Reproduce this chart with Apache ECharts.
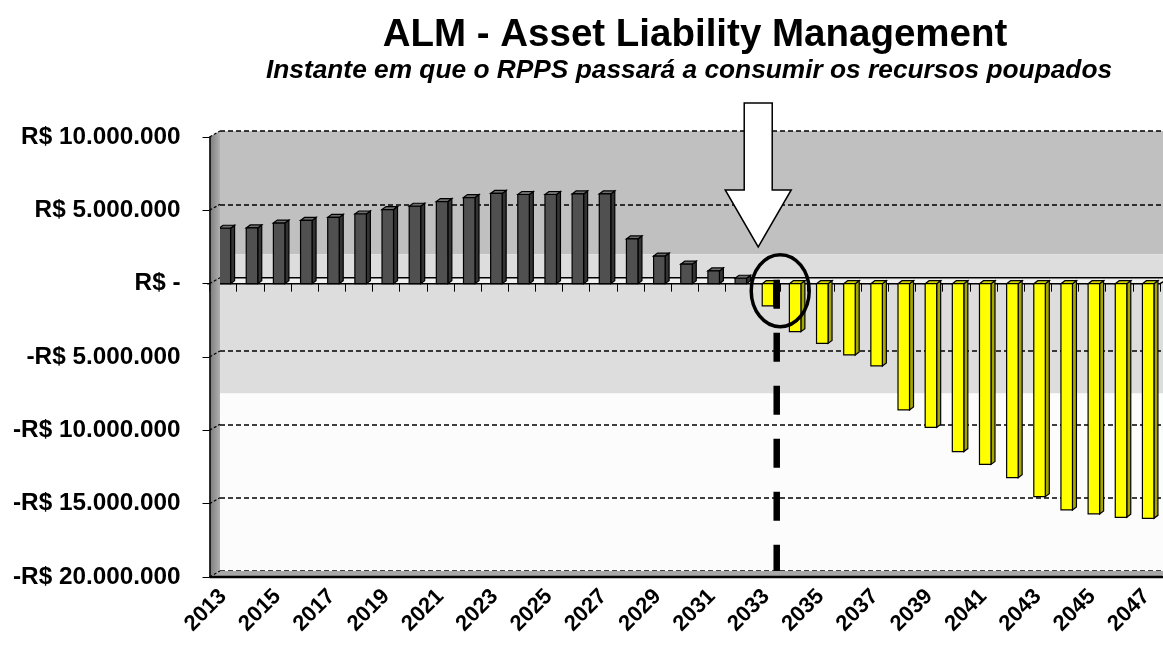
<!DOCTYPE html>
<html><head><meta charset="utf-8">
<script src="https://cdn.jsdelivr.net/npm/echarts@6/dist/echarts.min.js"></script>
<style>html,body{margin:0;padding:0;background:#fff}#c{width:1163px;height:645px}</style>
</head><body><div id="c"></div>
<script>
const titleText = 'ALM - Asset Liability Management';
const subtitleText = 'Instante em que o RPPS passará a consumir os recursos poupados';
const years = ['2013','2014','2015','2016','2017','2018','2019','2020','2021','2022','2023','2024',
  '2025','2026','2027','2028','2029','2030','2031','2032','2033','2034','2035','2036','2037','2038',
  '2039','2040','2041','2042','2043','2044','2045','2046','2047'];
const saldo = [3780000, 3800000, 4130000, 4310000, 4520000, 4750000, 5050000, 5280000, 5600000, 5870000,
  6150000, 6080000, 6080000, 6120000, 6120000, 3050000, 1880000, 1330000, 870000, 370000,
  -1520000, -3270000, -4070000, -4860000, -5610000, -8610000, -9800000, -11450000, -12320000, -13230000,
  -14520000, -15430000, -15700000, -15930000, -16000000];
const yTicks = [10000000, 5000000, 0, -5000000, -10000000, -15000000, -20000000];
const yTickLabels = ['R$ 10.000.000','R$ 5.000.000','R$ -','-R$ 5.000.000','-R$ 10.000.000','-R$ 15.000.000','-R$ 20.000.000'];
const wallBands = [[10000000, 1600000], [1600000, -7900000], [-7900000, -20000000]];
const wallBandColors = ['#c0c0c0', '#dddddd', '#fcfcfc'];
const markYear = '2033';

const FONT = '"Liberation Sans", Arial, sans-serif';
const DX = 10.5, DY = -6;
const chart = echarts.init(document.getElementById('c'), null, {renderer: 'canvas'});

function barItem(params, api) {
  const i = api.value(0), v = api.value(1);
  const base = api.coord([i, 0]);
  const top = api.coord([i, v]);
  const cx = base[0];
  const x0 = cx - 4, w = 11.5, dx = 4, dy = -3;
  const yTop = Math.min(base[1], top[1]);
  const yBot = Math.max(base[1], top[1]);
  const pos = v >= 0;
  const cFront = pos ? '#505050' : '#ffff00';
  const cSide = pos ? '#333333' : '#a6a600';
  const cTop = pos ? '#6e6e6e' : '#d4d400';
  const stroke = {stroke: '#000', lineWidth: 1.2};
  return {
    type: 'group',
    children: [
      {type: 'polygon', shape: {points: [[x0 + w, yTop], [x0 + w + dx, yTop + dy], [x0 + w + dx, yBot + dy], [x0 + w, yBot]]},
        style: Object.assign({fill: cSide}, stroke)},
      {type: 'polygon', shape: {points: [[x0, yTop], [x0 + dx, yTop + dy], [x0 + w + dx, yTop + dy], [x0 + w, yTop]]},
        style: Object.assign({fill: cTop}, stroke)},
      {type: 'rect', shape: {x: x0, y: yTop, width: w, height: yBot - yTop},
        style: Object.assign({fill: cFront}, stroke)}
    ]
  };
}

function bandItem(params, api) {
  const cs = params.coordSys;
  const a = api.coord([0, api.value(0)]);
  const b = api.coord([0, api.value(1)]);
  const k = api.value(2);
  return {type: 'rect', shape: {x: cs.x, y: a[1], width: cs.width, height: b[1] - a[1]},
    style: {fill: wallBandColors[k]}};
}

const option = {
  animation: false,
  backgroundColor: '#ffffff',
  grid: [
    {left: 209.5, top: 137, width: 950.5, height: 440},
    {left: 220, top: 131, width: 950.5, height: 440}
  ],
  xAxis: [
    {gridIndex: 0, type: 'category', data: years, position: 'bottom',
      axisLine: {show: false, onZero: false}, axisTick: {show: false},
      axisLabel: {interval: 1, rotate: 45, margin: 16, fontFamily: FONT, fontWeight: 'bold', fontSize: 22, color: '#000'},
      z: 5},
    {gridIndex: 0, type: 'category', data: years, position: 'bottom',
      axisLine: {show: false, onZero: true}, axisTick: {show: true, interval: 0, length: 8, lineStyle: {color: '#000', width: 1}},
      axisLabel: {show: false}, z: 2},
    {gridIndex: 1, type: 'category', data: years, show: false}
  ],
  yAxis: [
    {gridIndex: 0, type: 'value', min: -20000000, max: 10000000, interval: 5000000,
      axisLine: {show: true, lineStyle: {color: '#000', width: 1.5}},
      axisTick: {show: true, length: 7, lineStyle: {color: '#000', width: 1}},
      splitLine: {show: false},
      axisLabel: {margin: 29, fontFamily: FONT, fontWeight: 'bold', fontSize: 24.3, color: '#000',
        formatter: v => { const k = yTicks.indexOf(v); return k >= 0 ? yTickLabels[k] : ''; }},
      z: 5},
    {gridIndex: 1, type: 'value', min: -20000000, max: 10000000, interval: 5000000,
      axisLine: {show: false}, axisTick: {show: false}, axisLabel: {show: false},
      splitLine: {show: true, lineStyle: {color: '#000', type: [5, 3], width: 1.5}}, z: 1}
  ],
  series: [
    {type: 'custom', xAxisIndex: 2, yAxisIndex: 1, z: 0, silent: true,
      data: wallBands.map((b, k) => [b[0], b[1], k]), renderItem: bandItem},
    {type: 'custom', xAxisIndex: 0, yAxisIndex: 0, z: 3, silent: true,
      data: saldo.map((v, i) => [i, v]), renderItem: barItem}
  ]
};
chart.setOption(option);

// structural 3D walls and annotations anchored to the axes
const cxOf = i => chart.convertToPixel({xAxisIndex: 0}, i);
const yOf = v => chart.convertToPixel({yAxisIndex: 0}, v);
const bw = cxOf(1) - cxOf(0);
const xL = cxOf(0) - bw / 2, xR = cxOf(years.length - 1) + bw / 2;
const yT = yOf(10000000), yB = yOf(-20000000), yZ = yOf(0);
const c = cxOf(years.indexOf(markYear));

const g = [];
g.push({type: 'polygon', z: 2, shape: {points: [[xL, yZ], [xL + DX, yZ + DY], [xR + DX, yZ + DY], [xR, yZ]]},
  style: {fill: '#f0f0f0', stroke: '#000', lineWidth: 1.5}});
g.push({type: 'polygon', z: 4, shape: {points: [[xL, yB], [xL + DX, yB + DY], [xR + DX, yB + DY], [xR, yB]]},
  style: {fill: '#a8a8a8', stroke: null}});
g.push({type: 'line', z: 4, shape: {x1: xL, y1: yB, x2: xR + DX, y2: yB}, style: {stroke: '#000', lineWidth: 2.5}});
g.push({type: 'polygon', z: 4, shape: {points: [[xL, yT], [xL + DX, yT + DY], [xL + DX, yB + DY], [xL, yB]]},
  style: {fill: new echarts.graphic.LinearGradient(0, 0, 1, 0, [{offset: 0, color: '#7a7a7a'}, {offset: 1, color: '#b0b0b0'}])}});
yTicks.forEach(v => {
  const y = yOf(v);
  g.push({type: 'line', z: 4.5, shape: {x1: xL, y1: y, x2: xL + DX, y2: y + DY},
    style: {stroke: '#000', lineWidth: 1.2, lineDash: [3, 2]}});
});
// dashed vertical marker
g.push({type: 'line', z: 6, shape: {x1: c + 10.5, y1: yZ - 4, x2: c + 10.5, y2: yB + DY},
  style: {stroke: '#000', lineWidth: 6.5, lineDash: [29, 24]}});
// circle
g.push({type: 'ellipse', z: 6, shape: {cx: c + 14, cy: yZ + 7, rx: 29, ry: 36},
  style: {fill: null, stroke: '#000', lineWidth: 3.5}});
// arrow
const ac = c - 8;
g.push({type: 'polygon', z: 6, shape: {points: [[ac - 14, 103], [ac + 14, 103], [ac + 14, 190], [ac + 33, 190],
  [ac, 247], [ac - 33, 190], [ac - 14, 190]]}, style: {fill: '#fff', stroke: '#000', lineWidth: 1.5}});
// titles
g.push({type: 'text', z: 7, style: {text: titleText, x: 695, y: 35, align: 'center', verticalAlign: 'middle',
  font: 'bold 38.5px ' + FONT, fill: '#000'}});
g.push({type: 'text', z: 7, style: {text: subtitleText, x: 689, y: 71, align: 'center', verticalAlign: 'middle',
  font: 'italic bold 26.3px ' + FONT, fill: '#000'}});
chart.setOption({graphic: g});
</script></body></html>
